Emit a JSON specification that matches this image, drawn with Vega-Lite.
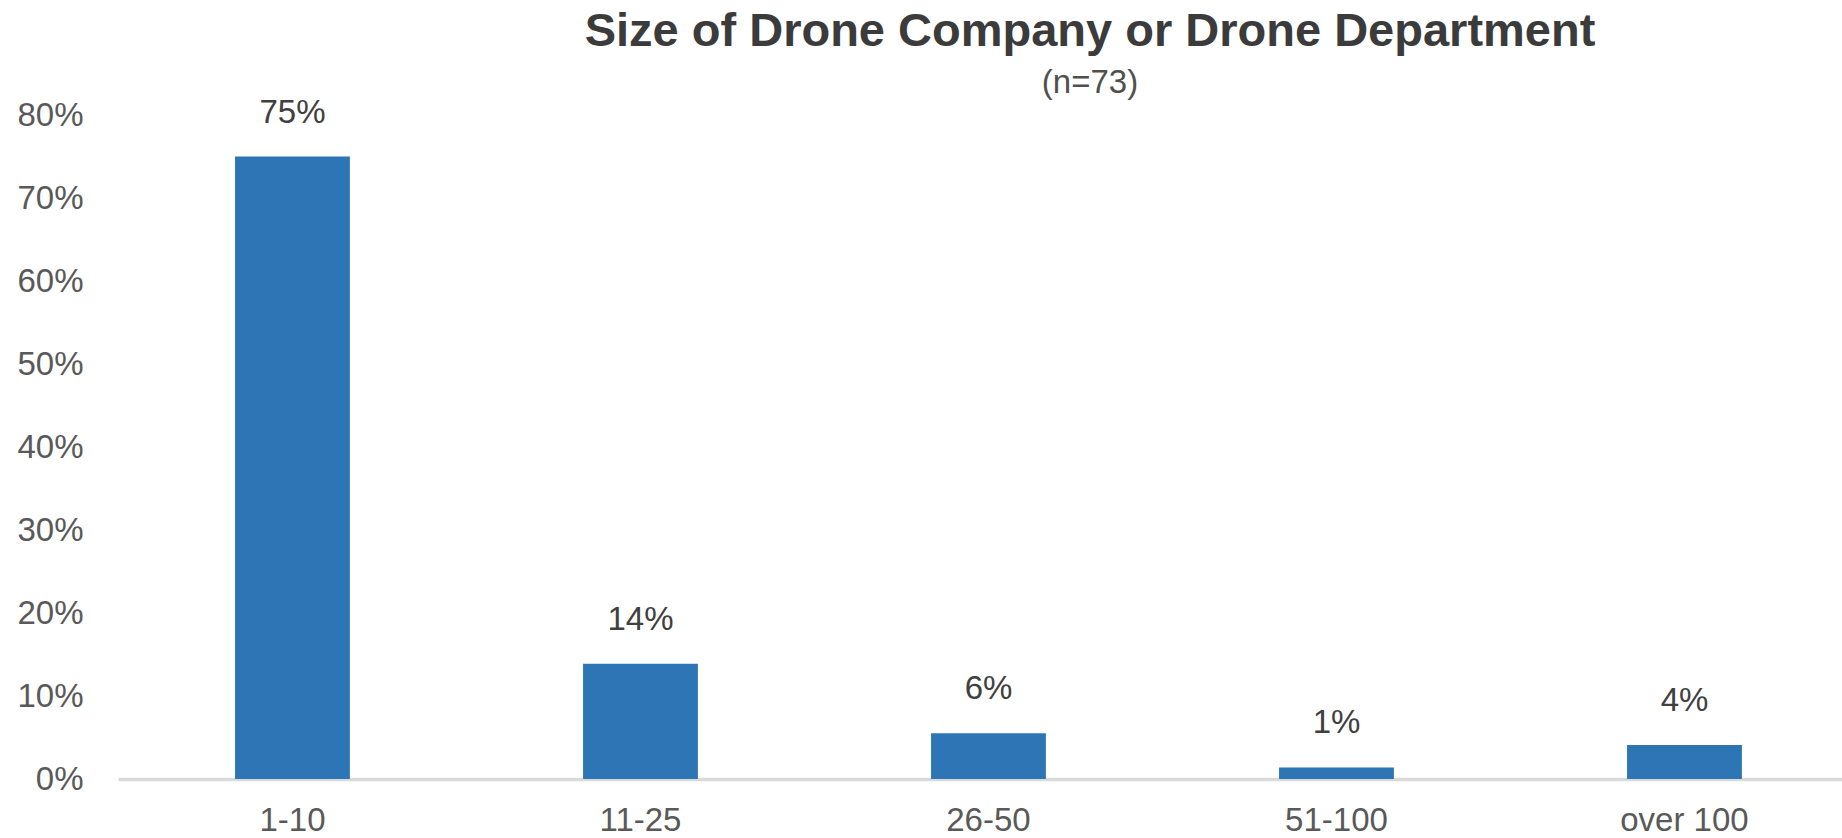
{
  "$schema": "https://vega.github.io/schema/vega-lite/v6.json",
  "autosize": {"type": "none"},
  "width": 1724,
  "height": 664,
  "padding": {"left": 118, "top": 115, "right": 0, "bottom": 59},
  "background": "white",
  "config": {
    "font": "Liberation Sans",
    "view": {"stroke": null}
  },
  "title": {
    "text": "Size of Drone Company or Drone Department",
    "subtitle": "(n=73)",
    "font": "Liberation Sans",
    "fontSize": 47,
    "fontWeight": "bold",
    "color": "#3b3b3b",
    "subtitleFont": "Liberation Sans",
    "subtitleFontSize": 33,
    "subtitleColor": "#505050",
    "subtitlePadding": 11,
    "anchor": "middle",
    "frame": "group",
    "dx": 110,
    "offset": -4
  },
  "data": {
    "values": [
      {"size": "1-10", "share": 0.75, "label": "75%"},
      {"size": "11-25", "share": 0.139, "label": "14%"},
      {"size": "26-50", "share": 0.055, "label": "6%"},
      {"size": "51-100", "share": 0.014, "label": "1%"},
      {"size": "over 100", "share": 0.041, "label": "4%"}
    ]
  },
  "encoding": {
    "x": {
      "field": "size",
      "type": "nominal",
      "sort": null,
      "scale": {"paddingInner": 0.67, "paddingOuter": 0.312, "align": 0.539},
      "axis": {
        "title": null,
        "labelAngle": 0,
        "labelFontSize": 33,
        "labelColor": "#595959",
        "labelPadding": 25,
        "ticks": false,
        "domainColor": "#d9d9d9",
        "domainWidth": 3.5
      }
    },
    "y": {
      "field": "share",
      "type": "quantitative",
      "scale": {"domain": [0, 0.8], "nice": false},
      "axis": {
        "title": null,
        "format": ".0%",
        "values": [0, 0.1, 0.2, 0.3, 0.4, 0.5, 0.6, 0.7, 0.8],
        "labelFontSize": 33,
        "labelColor": "#595959",
        "labelPadding": 35,
        "ticks": false,
        "domain": false,
        "grid": false
      }
    }
  },
  "layer": [
    {"mark": {"type": "bar", "color": "#2e75b6"}},
    {
      "mark": {"type": "text", "baseline": "alphabetic", "dy": -34, "fontSize": 33, "color": "#404040"},
      "encoding": {"text": {"field": "label"}}
    }
  ]
}
